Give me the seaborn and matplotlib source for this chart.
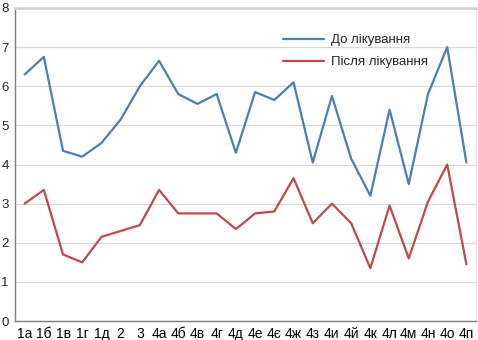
import matplotlib
matplotlib.use("Agg")
import matplotlib.pyplot as plt
import seaborn as sns
import pandas as pd
import numpy as np

groups = ["1а", "1б", "1в", "1г", "1д", "2", "3", "4а", "4б", "4в", "4г", "4д",
          "4е", "4є", "4ж", "4з", "4и", "4й", "4к", "4л", "4м", "4н", "4о", "4п"]
before = [6.3, 6.75, 4.35, 4.2, 4.55, 5.15, 6.0, 6.65, 5.8, 5.55, 5.8, 4.3,
          5.85, 5.65, 6.1, 4.05, 5.75, 4.15, 3.2, 5.4, 3.5, 5.8, 7.0, 4.05]
after = [3.0, 3.35, 1.7, 1.5, 2.15, 2.3, 2.45, 3.35, 2.75, 2.75, 2.75, 2.35,
         2.75, 2.8, 3.65, 2.5, 3.0, 2.5, 1.35, 2.95, 1.6, 3.05, 4.0, 1.45]
series_names = ["До лікування", "Після лікування"]
colors = ["#4a7ebb", "#be4b48"]
y_ticks = [0, 1, 2, 3, 4, 5, 6, 7, 8]

sns.set_theme(style="white")
plt.rcParams["font.family"] = ["Liberation Sans Narrow", "Liberation Sans", "DejaVu Sans"]

df = pd.DataFrame({
    "value": before + after,
    "series": [series_names[0]] * len(groups) + [series_names[1]] * len(groups),
})
df["pos"] = list(range(len(groups))) * 2

fig = plt.figure(figsize=(4.78, 3.40), dpi=100)
ax = fig.add_axes([15 / 478, 19 / 340, 461 / 478, 313 / 340])

sns.lineplot(data=df, x="pos", y="value", hue="series", palette=colors,
             linewidth=1.6, sort=False, ax=ax)

ax.set_xlim(-0.5, len(groups) - 0.5)
ax.set_ylim(0, 8)
ax.set_yticks(y_ticks)
ax.set_yticklabels([str(t) for t in y_ticks], fontsize=9.5)
ax.set_xticks(range(len(groups)))
ax.set_xticklabels(groups, fontsize=10)
ax.set_xticks(np.arange(-0.5, len(groups), 1), minor=True)
ax.tick_params(axis="x", which="major", length=0, pad=4, colors="black")
ax.tick_params(axis="x", which="minor", length=4, width=0.8, color="#7f7f7f", direction="out")
ax.tick_params(axis="y", which="major", length=3, width=0.8, color="#7f7f7f", direction="out", pad=1.5)
ax.set_xlabel("")
ax.set_ylabel("")

ax.yaxis.grid(True, color="#d9d9d9", linewidth=0.9)
ax.set_axisbelow(True)
for side in ["left", "bottom"]:
    ax.spines[side].set_color("#7f7f7f")
    ax.spines[side].set_linewidth(1.0)
ax.spines["top"].set_color("#d0d0d0")
ax.spines["top"].set_linewidth(1.8)
ax.spines["right"].set_color("#e6e6e6")
ax.spines["right"].set_linewidth(0.8)

leg = ax.legend(loc="upper left", bbox_to_anchor=(0.555, 0.955), frameon=False,
                fontsize=9.5, handlelength=3.1, handletextpad=0.55, labelspacing=0.75)

fig.savefig("out.png", dpi=100)
